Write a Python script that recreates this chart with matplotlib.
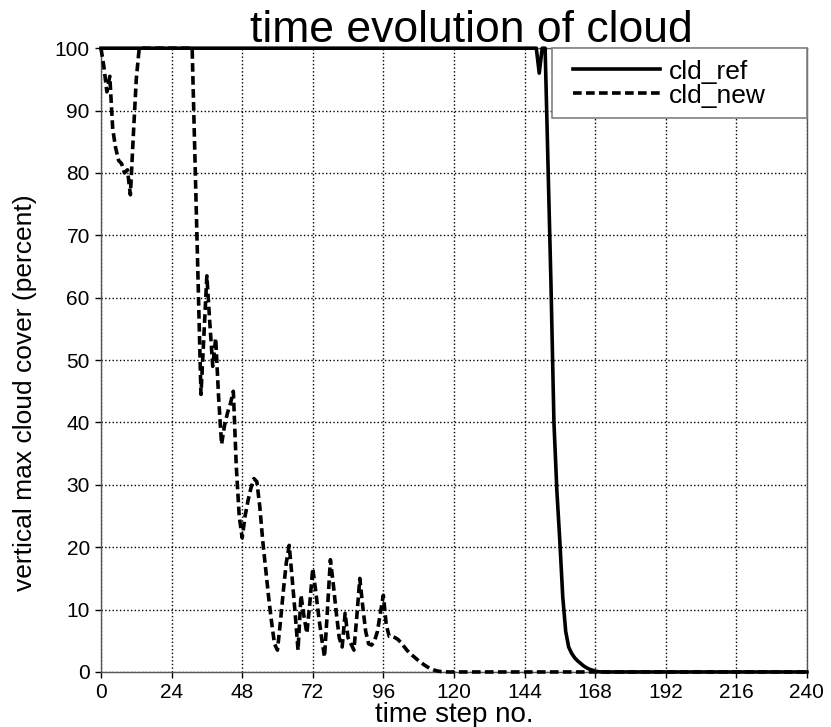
import numpy as np
import matplotlib
matplotlib.use('Agg')
import matplotlib.pyplot as plt
from matplotlib.patches import Rectangle

plt.rcParams['font.family'] = ['Liberation Sans', 'DejaVu Sans']

# cld_ref: reference run (time step, cloud cover %)
ref_steps = [0, 148, 149, 150, 151, 152, 153, 154, 155, 156, 157, 158, 159, 160,
             161, 162, 163, 164, 165, 166, 167, 168, 169, 170, 240]
ref_cloud = [100, 100, 96, 100, 100, 81, 62, 40, 29, 21, 12, 6.5, 4, 3,
             2.3, 1.8, 1.4, 1.0, 0.7, 0.45, 0.3, 0.15, 0.05, 0, 0]

# cld_new: new run
new_steps = [0, 1, 2, 3, 4, 5, 6, 7, 8, 9, 10, 11, 12, 13,
             31, 32, 33, 34, 35, 36, 37, 38, 39, 40, 41, 42, 43, 44, 45, 46, 47, 48,
             49, 50, 51, 52, 53, 54, 55, 56, 57, 58, 59, 60, 61, 62, 63, 64, 65, 66,
             67, 68, 69, 70, 71, 72, 73, 74, 75, 76, 77, 78, 79, 80, 81, 82, 83, 84,
             85, 86, 87, 88, 89, 90, 91, 92, 93, 94, 95, 96, 97, 98, 99, 100, 101,
             102, 103, 104, 105, 106, 107, 108, 109, 110, 111, 112, 113, 114, 115,
             116, 117, 118, 240]
new_cloud = [100, 97, 93, 95.5, 87, 84, 82, 81.5, 80, 80.5, 76.5, 86, 95, 100,
             100, 81.5, 63, 44.5, 54, 63.5, 56, 49, 53.5, 44, 36.5, 39.5, 41.5, 43, 45, 33, 25, 21.5,
             25, 27.5, 29.5, 31, 30.5, 26.5, 21, 16.5, 12, 8, 4.5, 3.5, 8, 13, 17.5, 20.3, 15, 9.5,
             3.5, 12.3, 9, 6.2, 11, 16.6, 13, 9, 5.5, 2.4, 10, 18, 14, 9.5, 5.5, 4, 9.4, 5.5,
             4.5, 3.5, 9, 15, 10.5, 6.5, 4.5, 4.3, 5, 6.5, 9.5, 12.3, 7.5, 5.7, 5.7, 5.5, 5.2,
             4.7, 4.1, 3.5, 3.0, 2.6, 2.2, 1.8, 1.45, 1.1, 0.8, 0.55, 0.35, 0.2, 0.1,
             0.05, 0.02, 0, 0]

xticks = list(range(0, 241, 24))
yticks = list(range(0, 101, 10))

fig = plt.figure(figsize=(8.31, 7.27), dpi=100)
ax = fig.add_axes([0.1215, 0.0757, 0.8495, 0.858])

ax.plot(ref_steps, ref_cloud, color='black', lw=2.6, label='cld_ref',
        clip_on=False, zorder=3)
ax.plot(new_steps, new_cloud, color='black', lw=2.6, dashes=(2.4, 1.2),
        label='cld_new', clip_on=False, zorder=3)

ax.set_xlim(0, 240)
ax.set_ylim(0, 100)
ax.set_xticks(xticks)
ax.set_yticks(yticks)
ax.tick_params(direction='out', length=4, width=1, labelsize=15, pad=4)
ax.grid(True, linestyle=':', color='black', linewidth=1)
for s in ax.spines.values():
    s.set_color('#555555')
    s.set_linewidth(1)

ax.set_xlabel('time step no.', fontsize=20, labelpad=0)
ax.set_ylabel('vertical max cloud cover (percent)', fontsize=19)
ax.yaxis.set_label_coords(-0.09, 0.447)
fig.text(0.567, 0.942, 'time evolution of cloud', fontsize=32, ha='center', va='baseline')

# legend box drawn separately so its size matches the original
box = Rectangle((0.639, 0.888), 0.361, 0.112, transform=ax.transAxes,
                facecolor='white', edgecolor='#808080', lw=1.2, zorder=4, clip_on=False)
ax.add_patch(box)
leg = ax.legend(loc='upper left', bbox_to_anchor=(0.6686, 0.9816), borderaxespad=0,
                borderpad=0, fontsize=19, handlelength=3.3, handletextpad=0.34,
                labelspacing=0.0, frameon=False)
leg.set_zorder(5)

fig.savefig('out.png', dpi=100)
